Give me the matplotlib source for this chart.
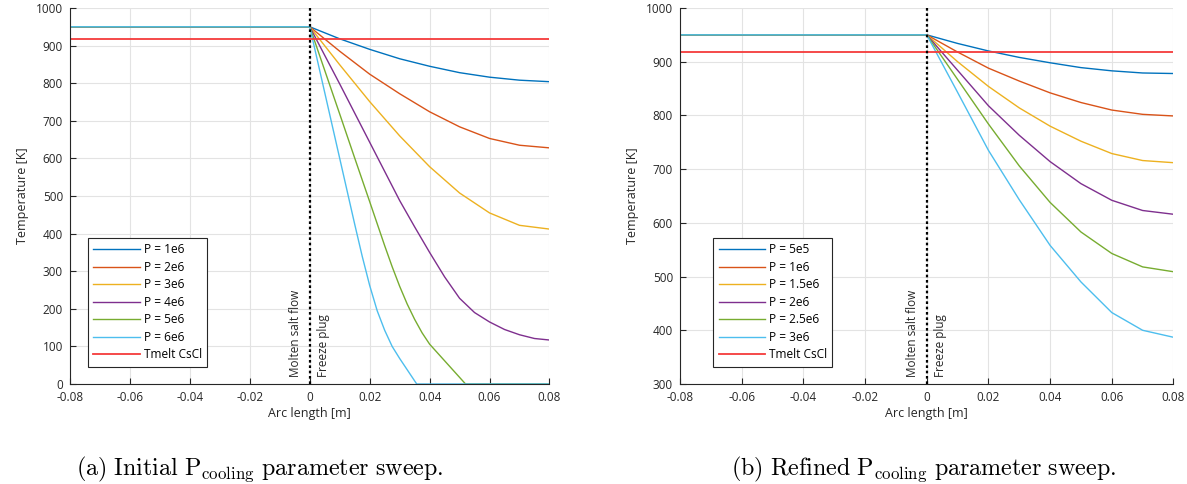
import matplotlib
matplotlib.use("Agg")
import matplotlib.pyplot as plt

plt.rcParams['font.family'] = ['Open Sans', 'DejaVu Sans']
plt.rcParams['mathtext.fontset'] = 'cm'

# --- data (x in m, T in K) ---
t_start = 950
t_melt = 918
x_flat = [-0.08, 0.0]

# (a) initial sweep
x_a = [0.0, 0.01, 0.02, 0.03, 0.04, 0.05, 0.06, 0.07, 0.08]
t_a_1e6 = [950, 918, 890, 865, 845, 828, 816, 808, 804]
t_a_2e6 = [950, 885, 824, 772, 724, 684, 653, 635, 628]
t_a_3e6 = [950, 849, 751, 660, 578, 508, 455, 422, 412]
x_a_4e6 = [0.0, 0.01, 0.02, 0.03, 0.035, 0.04, 0.045, 0.05, 0.055, 0.06,
           0.065, 0.07, 0.075, 0.08]
t_a_4e6 = [950, 798, 643, 488, 418, 350, 285, 228, 190, 165, 145, 131, 121, 117]
x_a_5e6 = [0.0, 0.005, 0.01, 0.015, 0.02, 0.025, 0.0275, 0.03, 0.0325, 0.035,
           0.0375, 0.04, 0.052, 0.08]
t_a_5e6 = [950, 834, 718, 601, 485, 368, 312, 260, 213, 172, 136, 106, 0, 0]
x_a_6e6 = [0.0, 0.005, 0.01, 0.015, 0.0175, 0.02, 0.0225, 0.025, 0.0275, 0.03,
           0.0357, 0.08]
t_a_6e6 = [950, 775, 600, 425, 340, 262, 195, 143, 100, 68, 0, 0]
labels_a = ['P = 1e6', 'P = 2e6', 'P = 3e6', 'P = 4e6', 'P = 5e6', 'P = 6e6']

# (b) refined sweep
x_b = [0.0, 0.01, 0.02, 0.03, 0.04, 0.05, 0.06, 0.07, 0.08]
t_b_5e5 = [950, 934, 920, 908, 898, 889, 883, 879, 878]
t_b_1e6 = [950, 918, 888, 864, 842, 824, 810, 802, 799]
t_b_15e6 = [950, 900, 854, 814, 780, 752, 729, 716, 712]
t_b_2e6 = [950, 884, 818, 763, 714, 673, 642, 623, 616]
t_b_25e6 = [950, 867, 784, 706, 638, 583, 543, 518, 509]
t_b_3e6 = [950, 843, 735, 643, 558, 490, 433, 400, 387]
labels_b = ['P = 5e5', 'P = 1e6', 'P = 1.5e6', 'P = 2e6', 'P = 2.5e6', 'P = 3e6']

colors = ['#0072BD', '#D95319', '#EDB120', '#7E2F8E', '#77AC30', '#4DBEEE']
txt = '#262626'

series_a = [(x_a, t_a_1e6), (x_a, t_a_2e6), (x_a, t_a_3e6), (x_a_4e6, t_a_4e6),
            (x_a_5e6, t_a_5e6), (x_a_6e6, t_a_6e6)]
series_b = [(x_b, t_b_5e5), (x_b, t_b_1e6), (x_b, t_b_15e6), (x_b, t_b_2e6),
            (x_b, t_b_25e6), (x_b, t_b_3e6)]

fig = plt.figure(figsize=(11.87, 4.84), dpi=100)
ax1 = fig.add_axes([0.0590, 0.2066, 0.4039, 0.7769])
ax2 = fig.add_axes([0.5729, 0.2066, 0.4157, 0.7769])


def draw(ax, series, labels, ylim, yticks, leg_anchor):
    for (xs, ts), c, lab in zip(series, colors, labels):
        ax.plot(x_flat + xs, [t_start, t_start] + ts, color=c, lw=1.0, label=lab)
    ax.plot([-0.08, 0.08], [t_melt, t_melt], color='#F53A3A', lw=1.3, label='Tmelt CsCl')
    ax.axvline(0, color='black', ls=(0, (1.2, 1.2)), lw=1.6)
    ax.set_xlim(-0.08, 0.08)
    ax.set_ylim(*ylim)
    ax.set_xticks([-0.08, -0.06, -0.04, -0.02, 0, 0.02, 0.04, 0.06, 0.08])
    ax.set_xticklabels(['-0.08', '-0.06', '-0.04', '-0.02', '0', '0.02', '0.04', '0.06', '0.08'])
    ax.set_yticks(yticks)
    ax.grid(True, color='#E3E3E3', lw=0.8)
    ax.set_axisbelow(True)
    for s in ['top', 'right']:
        ax.spines[s].set_visible(False)
    for s in ['left', 'bottom']:
        ax.spines[s].set_color(txt)
        ax.spines[s].set_linewidth(0.8)
    ax.tick_params(direction='in', length=4, width=0.8, colors=txt, labelsize=8.5)
    ax.tick_params(axis='x', pad=5)
    ax.tick_params(axis='y', pad=5)
    ax.set_xlabel('Arc length [m]', fontsize=9, color=txt, labelpad=2)
    ax.set_ylabel('Temperature [K]', fontsize=9, color=txt, labelpad=5)
    yb = ylim[0] + (ylim[1] - ylim[0]) * 0.018
    ax.text(-0.0025, yb, 'Molten salt flow', rotation=90, ha='right', va='bottom',
            fontsize=8.5, color=txt)
    ax.text(0.0025, yb, 'Freeze plug', rotation=90, ha='left', va='bottom',
            fontsize=8.5, color=txt)
    leg = ax.legend(loc='lower left', bbox_to_anchor=leg_anchor, fontsize=8.6,
                    handlelength=3.9, handletextpad=0.3, labelspacing=0.38,
                    borderpad=0.45, fancybox=False, framealpha=1,
                    edgecolor='#262626')
    leg.get_frame().set_linewidth(0.8)


draw(ax1, series_a, labels_a, (0, 1000), range(0, 1001, 100), (0.025, 0.03))
draw(ax2, series_b, labels_b, (300, 1000), range(300, 1001, 100), (0.055, 0.03))

fig.text(0.219, 0.03, r'$\mathrm{(a)\ Initial\ P_{cooling}\ parameter\ sweep.}$',
         ha='center', va='center', fontsize=17.3)
fig.text(0.778, 0.03, r'$\mathrm{(b)\ Refined\ P_{cooling}\ parameter\ sweep.}$',
         ha='center', va='center', fontsize=17.3)

fig.savefig('out.png', dpi=100)
